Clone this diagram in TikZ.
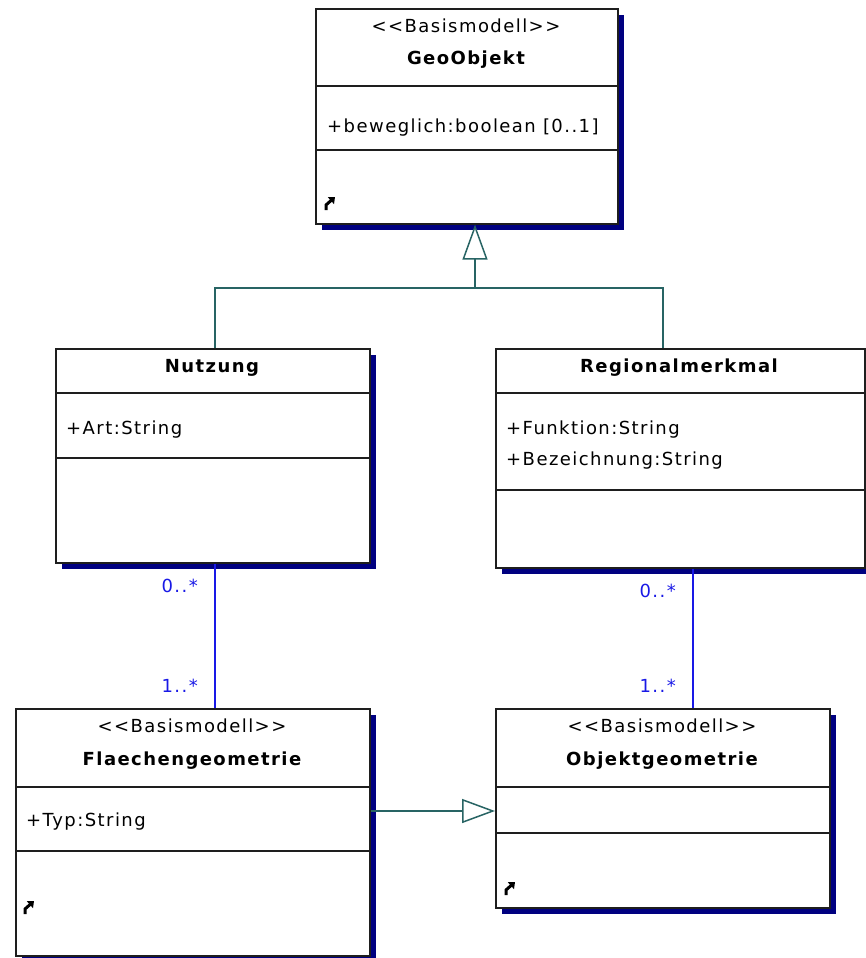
\documentclass[tikz,border=0pt]{standalone}
\usepackage{fontspec}
\setmainfont[LetterSpace=8,Ligatures=NoCommon]{DejaVu Sans}
\usetikzlibrary{arrows.meta,shadows,calc}
\definecolor{gencol}{RGB}{40,100,100}
\definecolor{assoccol}{RGB}{25,25,230}
\definecolor{shadcol}{RGB}{0,0,128}
\definecolor{boxline}{RGB}{30,30,30}
\newcommand{\stereotxt}{{<}{<}Basismodell{>}{>}}
\tikzset{
  classbox/.style={draw=boxline, line width=1.6pt, fill=white, inner sep=0pt, anchor=north west,
    drop shadow={shadow xshift=6.5pt, shadow yshift=-6.5pt, fill=shadcol, opacity=1}},
  divider/.style={draw=boxline, line width=1.6pt},
  stereo/.style={inner sep=0pt, font=\fontsize{18}{22}\selectfont},
  cname/.style={inner sep=0pt, font=\fontsize{18}{22}\selectfont\bfseries},
  attr/.style={inner sep=0pt, anchor=west, font=\fontsize{18}{22}\selectfont},
  mult/.style={inner sep=0pt, anchor=east, text=assoccol, font=\fontsize{18}{22}\selectfont},
  gen/.style={draw=gencol, line width=1.5pt},
  assoc/.style={draw=assoccol, line width=1.5pt},
  gentip/.style={-{Triangle[open, fill=white, length=35pt, width=25pt]}},
  icon/.style={line width=3pt, -{Triangle[length=5.5pt, width=9pt]}}
}
\begin{document}
\begin{tikzpicture}[x=1pt, y=-1pt]
\useasboundingbox (0,0) rectangle (866,958);

% ---------- GeoObjekt ----------
\node[classbox, minimum width=302pt, minimum height=215pt] (geo) at (315,8) {};
\draw[divider] (geo.west |- 0,86) -- (geo.east |- 0,86);
\draw[divider] (geo.west |- 0,150) -- (geo.east |- 0,150);
\node[stereo] (geost) at (466,26) {\stereotxt};
\node[cname] (geon) at (466,60) {GeoObjekt};
\node[attr] (geoa) at (327,128) {+beweglich:boolean [0..1]};
\draw[icon] (326,210) -- (326,205) -- (335,197);

% ---------- Nutzung ----------
\node[classbox, minimum width=314pt, minimum height=214pt] (nutz) at (55,348) {};
\draw[divider] (nutz.west |- 0,393) -- (nutz.east |- 0,393);
\draw[divider] (nutz.west |- 0,458) -- (nutz.east |- 0,458);
\node[cname] (nutzn) at (212,368) {Nutzung};
\node[attr] (nutza) at (66,430) {+Art:String};

% ---------- Regionalmerkmal ----------
\node[classbox, minimum width=369pt, minimum height=219pt] (reg) at (495,348) {};
\draw[divider] (reg.west |- 0,393) -- (reg.east |- 0,393);
\draw[divider] (reg.west |- 0,490) -- (reg.east |- 0,490);
\node[cname] (regn) at (679,368) {Regionalmerkmal};
\node[attr] (rega) at (506,430) {+Funktion:String};
\node[attr] (regb) at (506,461) {+Bezeichnung:String};

% ---------- Flaechengeometrie ----------
\node[classbox, minimum width=354pt, minimum height=247pt] (flae) at (15,708) {};
\draw[divider] (flae.west |- 0,787) -- (flae.east |- 0,787);
\draw[divider] (flae.west |- 0,851) -- (flae.east |- 0,851);
\node[stereo] (flaest) at (192,726) {\stereotxt};
\node[cname] (flaen) at (192,761) {Flaechengeometrie};
\node[attr] (flaea) at (26,822) {+Typ:String};
\draw[icon] (25,914) -- (25,909) -- (34,901);

% ---------- Objektgeometrie ----------
\node[classbox, minimum width=334pt, minimum height=199pt] (obj) at (495,708) {};
\draw[divider] (obj.west |- 0,787) -- (obj.east |- 0,787);
\draw[divider] (obj.west |- 0,833) -- (obj.east |- 0,833);
\node[stereo] (objst) at (662,726) {\stereotxt};
\node[cname] (objn) at (662,761) {Objektgeometrie};
\draw[icon] (506,895) -- (506,890) -- (515,882);

% ---------- Generalizations ----------
\coordinate (jn) at (475,288);
\draw[gen] (nutz.north -| 215,0) |- (jn) -| (reg.north -| 663,0);
\draw[gen, gentip] (jn) -- (geo.south -| 475,0);
\draw[gen, -{Triangle[open, fill=white, length=33pt, width=24pt]}] (flae.east |- 0,811) -- (obj.west |- 0,811);

% ---------- Associations ----------
\draw[assoc] (nutz.south -| 215,0) -- (flae.north -| 215,0);
\draw[assoc] (reg.south -| 693,0) -- (obj.north -| 693,0);
\node[mult] (m1) at (198,586) {0..*};
\node[mult] (m2) at (198,686) {1..*};
\node[mult] (m3) at (676,591) {0..*};
\node[mult] (m4) at (676,686) {1..*};
\end{tikzpicture}
\end{document}
